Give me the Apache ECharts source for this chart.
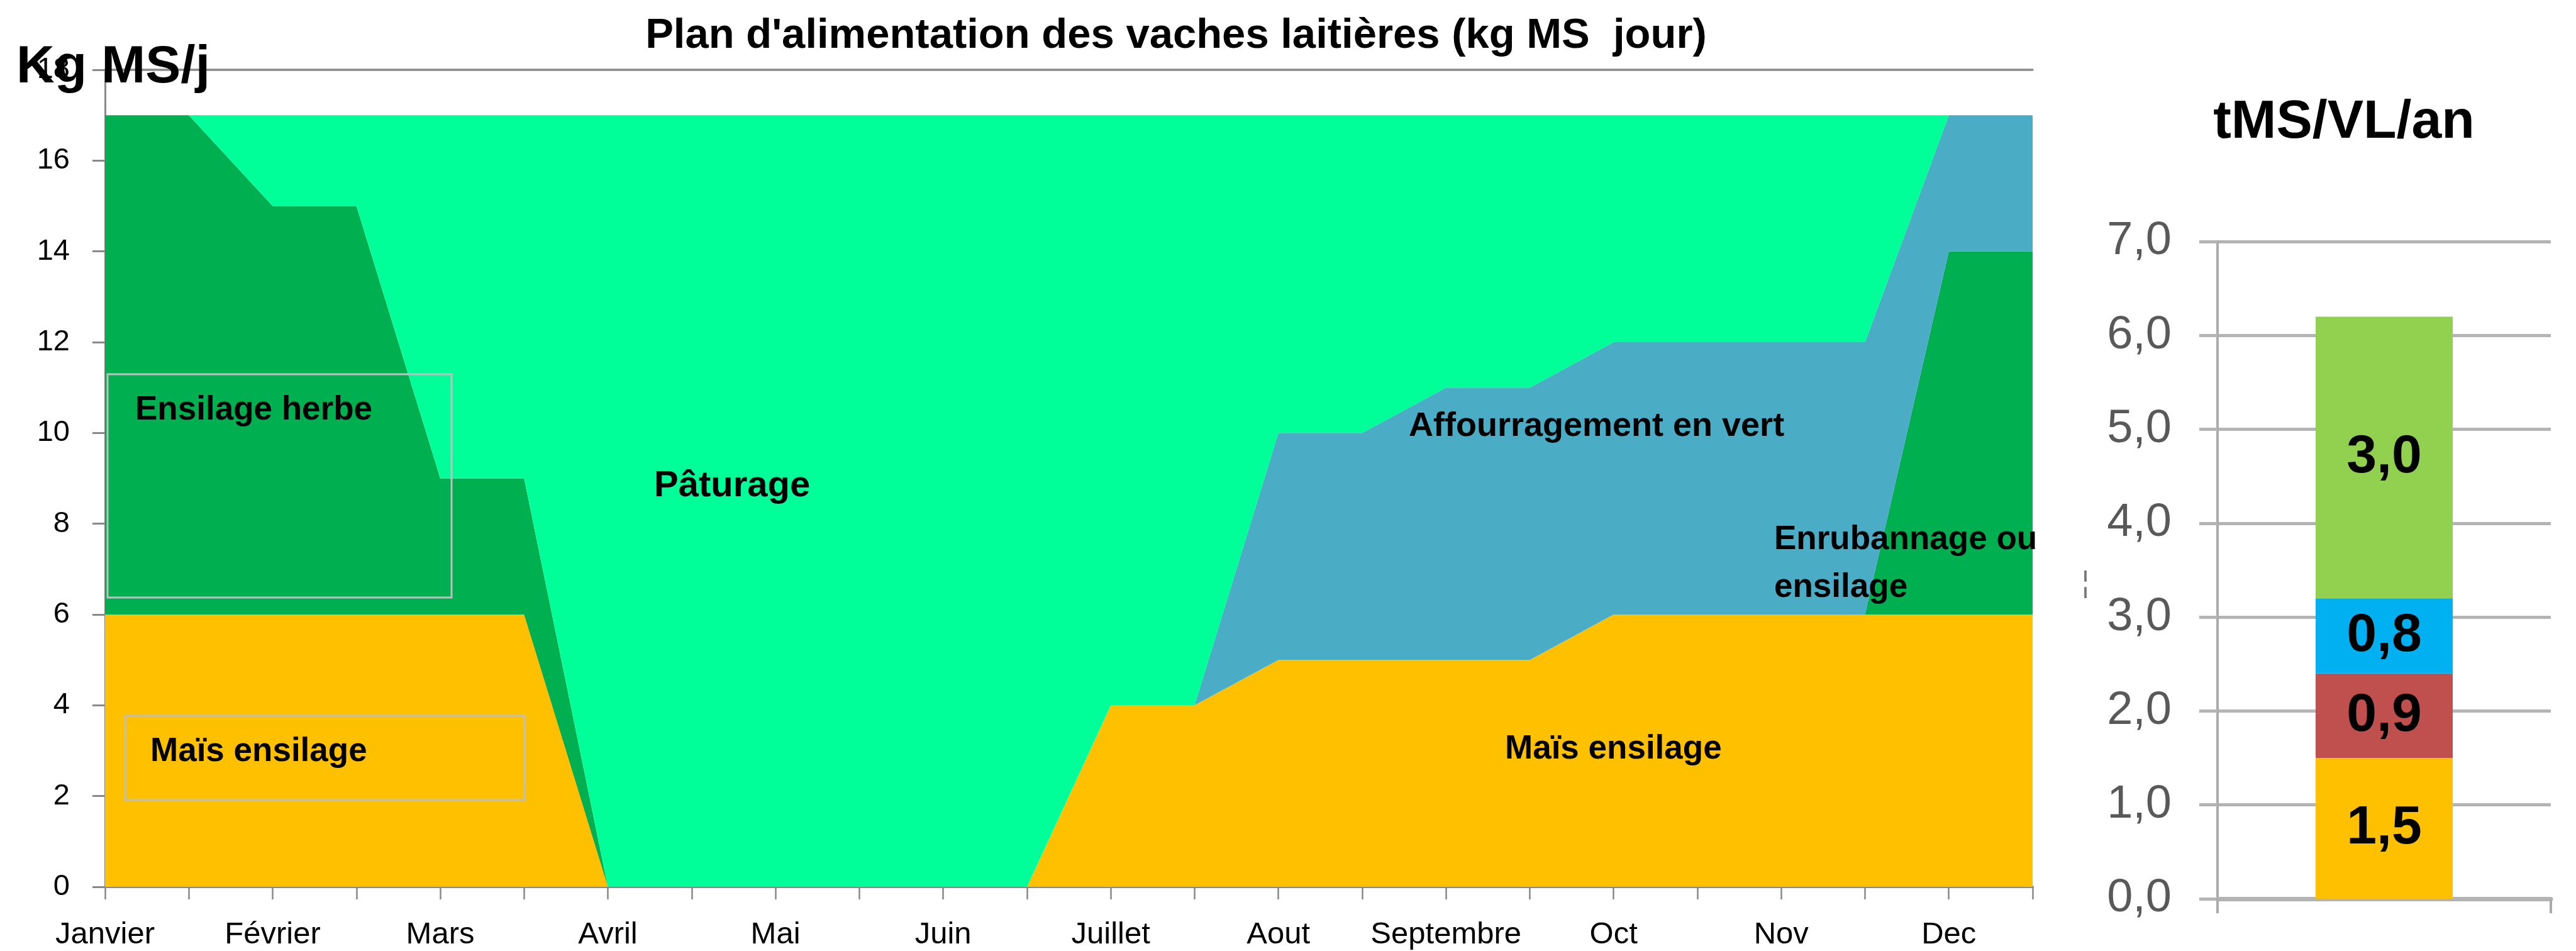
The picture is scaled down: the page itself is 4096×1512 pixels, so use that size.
<!DOCTYPE html>
<html>
<head>
<meta charset="utf-8">
<script src="https://cdn.jsdelivr.net/npm/echarts@6/dist/echarts.min.js"></script>
<style>
  html, body { margin: 0; padding: 0; background: #fff; }
  #main { width: 4096px; height: 1512px; }
</style>
</head>
<body>
<div id="main"></div>
<script>
// mois (une étiquette par mois, deux points par mois)
var months = ['Janvier', 'Février', 'Mars', 'Avril', 'Mai', 'Juin',
  'Juillet', 'Aout', 'Septembre', 'Oct', 'Nov', 'Dec'];

// kg MS / jour, par demi-mois
var maisEnsilage = [6, 6, 6, 6, 6, 6, 0, 0, 0, 0, 0, 0, 4, 4, 5, 5, 5, 5, 6, 6, 6, 6, 6, 6];
var ensilageHerbe = [11, 11, 9, 9, 3, 3, 0, 0, 0, 0, 0, 0, 0, 0, 0, 0, 0, 0, 0, 0, 0, 0, 8, 8];
var affourragement = [0, 0, 0, 0, 0, 0, 0, 0, 0, 0, 0, 0, 0, 0, 5, 5, 6, 6, 6, 6, 6, 6, 3, 3];
var paturage = [0, 0, 2, 2, 8, 8, 17, 17, 17, 17, 17, 17, 13, 13, 7, 7, 6, 6, 5, 5, 5, 5, 0, 0];

// tMS / VL / an
var barCategories = [''];
var barMais = [1.5];
var barRouge = [0.9];
var barBleu = [0.8];
var barVert = [3.0];

var halfMonths = [];
months.forEach(function (m) { halfMonths.push(m); halfMonths.push(m + ' 15'); });

var FONT = '"Liberation Sans", Arial, sans-serif';
var axisGray = '#898989';
var gridGray = '#B4B4B4';

function virgule(v) { return v.toFixed(1).replace('.', ','); }

function area(name, data, color) {
  return {
    name: name,
    type: 'line',
    stack: 'kg',
    data: data,
    symbol: 'none',
    lineStyle: { width: 0 },
    itemStyle: { color: color },
    areaStyle: { color: color, opacity: 1 },
    xAxisIndex: 0,
    yAxisIndex: 0
  };
}

function bar(name, data, color) {
  return {
    name: name,
    type: 'bar',
    stack: 'an',
    data: data,
    xAxisIndex: 2,
    yAxisIndex: 1,
    barWidth: 218,
    itemStyle: { color: color },
    label: {
      show: true,
      position: 'inside',
      fontFamily: FONT,
      fontSize: 86,
      fontWeight: 'bold',
      color: '#000',
      formatter: function (p) { return virgule(p.value); }
    }
  };
}

function label(text, x, y, size) {
  return {
    type: 'text',
    z: 100,
    style: {
      text: text,
      x: x,
      y: y,
      font: 'bold ' + (size || 53) + 'px ' + FONT,
      fill: '#000',
      align: 'left',
      verticalAlign: 'middle'
    }
  };
}

function box(x, y, w, h) {
  return {
    type: 'rect',
    z: 90,
    shape: { x: x, y: y, width: w, height: h },
    style: { fill: 'none', stroke: '#BFBFBF', lineWidth: 3 }
  };
}

var myChart = echarts.init(document.getElementById('main'));
var option = {
  animation: false,
  backgroundColor: '#fff',
  textStyle: { fontFamily: FONT },
  grid: [
    { left: 167, right: 864, top: 111, bottom: 102 },
    { left: 3526, right: 40, top: 384, bottom: 83 }
  ],
  xAxis: [{
    type: 'category',
    gridIndex: 0,
    data: halfMonths,
    boundaryGap: false,
    axisLine: { lineStyle: { color: axisGray, width: 4 } },
    axisTick: { show: true, interval: 0, length: 20, lineStyle: { color: axisGray, width: 2.5 } },
    axisLabel: { interval: 1, fontSize: 49, color: '#000', margin: 52, fontFamily: FONT },
    splitLine: { show: false }
  }, {
    type: 'category',
    gridIndex: 0,
    position: 'top',
    data: halfMonths,
    boundaryGap: false,
    axisLine: { lineStyle: { color: axisGray, width: 3.5 } },
    axisTick: { show: false },
    axisLabel: { show: false },
    splitLine: { show: false }
  }, {
    type: 'category',
    gridIndex: 1,
    data: barCategories,
    boundaryGap: true,
    axisLine: { lineStyle: { color: gridGray, width: 7 } },
    axisTick: { show: true, length: 23, lineStyle: { color: '#ABABAB', width: 4 } },
    axisLabel: { show: false }
  }],
  yAxis: [{
    type: 'value',
    gridIndex: 0,
    min: 0,
    max: 18,
    interval: 2,
    axisLine: { show: true, lineStyle: { color: axisGray, width: 3 } },
    axisTick: { show: true, length: 20, lineStyle: { color: axisGray, width: 3 } },
    axisLabel: { fontSize: 47, color: '#000', margin: 56, fontFamily: FONT },
    splitLine: { show: false }
  }, {
    type: 'value',
    gridIndex: 1,
    min: 0,
    max: 7,
    interval: 1,
    axisLine: { show: true, lineStyle: { color: '#ABABAB', width: 4 } },
    axisTick: { show: true, length: 29, lineStyle: { color: gridGray, width: 5 } },
    axisLabel: { fontSize: 74, color: '#595959', margin: 73, fontFamily: FONT, formatter: virgule },
    splitLine: { show: true, lineStyle: { color: gridGray, width: 5 } }
  }],
  series: [
    area('Maïs ensilage', maisEnsilage, '#FFC000'),
    area('Ensilage herbe / enrubannage', ensilageHerbe, '#00B050'),
    area('Affourragement en vert', affourragement, '#4BACC6'),
    area('Pâturage', paturage, '#00FF99'),
    bar('Maïs', barMais, '#FFC000'),
    bar('Rouge', barRouge, '#C0504D'),
    bar('Bleu', barBleu, '#00B0F0'),
    bar('Vert', barVert, '#92D050')
  ],
  graphic: [
    {
      type: 'text', z: 100,
      style: {
        text: "Plan d'alimentation des vaches laitières (kg MS  jour)",
        x: 1870, y: 58, font: 'bold 67px ' + FONT, fill: '#000',
        align: 'center', verticalAlign: 'middle'
      }
    },
    label('Kg MS/j', 26, 108, 84),
    {
      type: 'text', z: 100,
      style: {
        text: 'tMS/VL/an', x: 3727, y: 195, font: 'bold 86px ' + FONT, fill: '#000',
        align: 'center', verticalAlign: 'middle'
      }
    },
    box(171, 595, 547, 355),
    box(199, 1138, 635, 134),
    label('Ensilage herbe', 215, 652),
    label('Maïs ensilage', 239, 1195),
    label('Pâturage', 1040, 773, 58),
    label('Affourragement en vert', 2240, 678, 54),
    label('Enrubannage ou', 2821, 858),
    label('ensilage', 2821, 934),
    label('Maïs ensilage', 2393, 1191),
    {
      type: 'text', z: 100,
      style: { text: '¦', x: 3316, y: 928, font: '46px ' + FONT, fill: '#777', align: 'center', verticalAlign: 'middle' }
    }
  ]
};
myChart.setOption(option);
</script>
</body>
</html>
